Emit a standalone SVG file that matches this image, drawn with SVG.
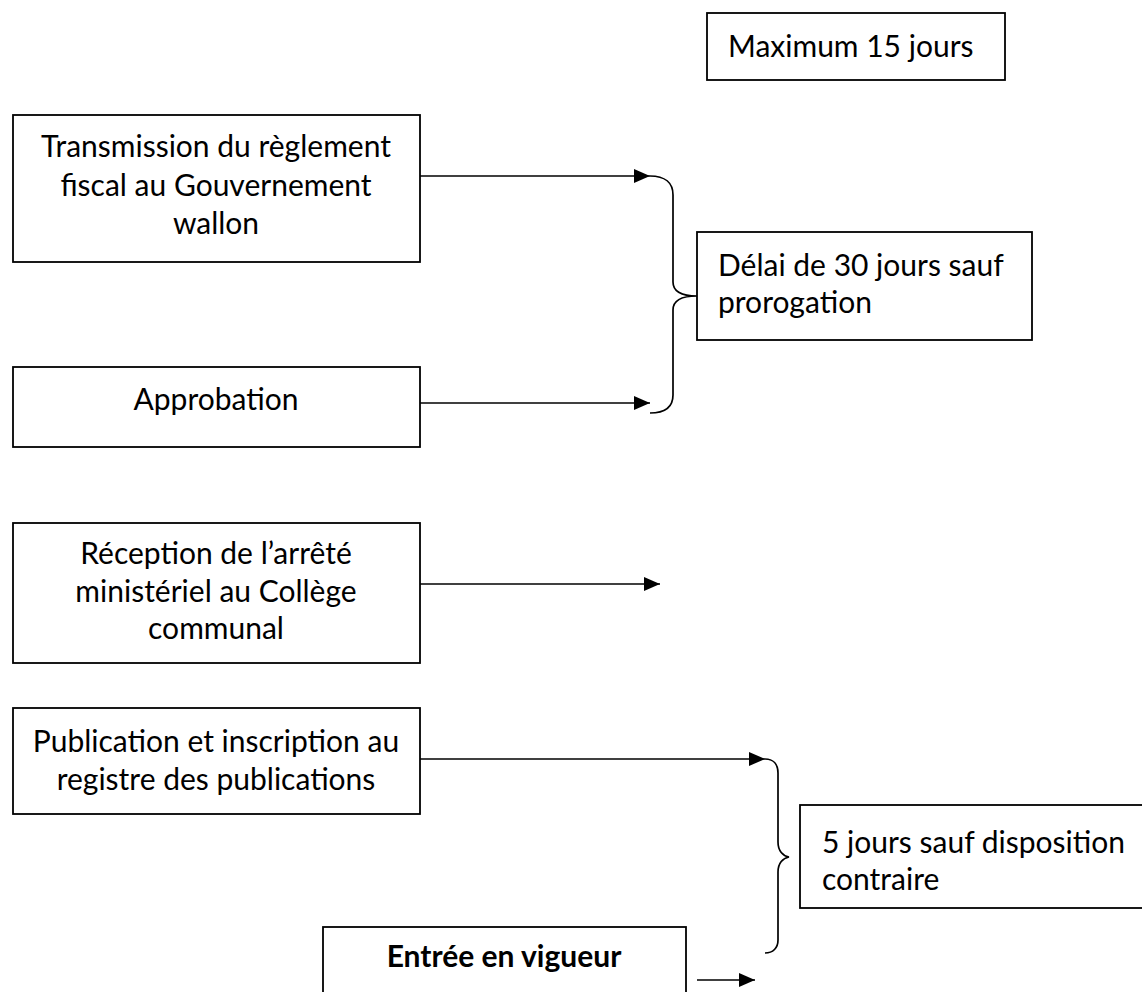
<svg xmlns="http://www.w3.org/2000/svg" width="1142" height="992" viewBox="0 0 1142 992">
<style>
.box{fill:#fff;stroke:#000;stroke-width:1.8}
.t{font-family:Lato,"Open Sans",sans-serif;font-size:30px;fill:#000}
.c{text-anchor:middle}
.b{font-weight:bold}
.ln{fill:none;stroke:#000;stroke-width:1.7}
</style>
<defs>
<marker id="ah" markerUnits="userSpaceOnUse" markerWidth="16" markerHeight="14" refX="16" refY="7" orient="auto">
<path d="M0,0 L16,7 L0,14 z" fill="#000"/>
</marker>
</defs>
<rect width="1142" height="992" fill="#fff"/>
<g id="connectors">
<line class="ln" x1="420" y1="176" x2="650" y2="176" marker-end="url(#ah)"/>
<line class="ln" x1="420" y1="403" x2="650" y2="403" marker-end="url(#ah)"/>
<line class="ln" x1="420" y1="584" x2="660" y2="584" marker-end="url(#ah)"/>
<line class="ln" x1="420" y1="759" x2="765" y2="759" marker-end="url(#ah)"/>
<line class="ln" x1="697" y1="980" x2="755" y2="980" marker-end="url(#ah)"/>
<path class="ln" d="M650,176 C665,176 673,183 673,195 L673,282 C673,292 682,296 697,296 C682,296 673,300 673,310 L673,395 C673,407 665,413 650,413"/>
<path class="ln" d="M765,759 C773,759 778,764 778,773 L778,842 C778,851 783,856 789,857 C783,858 778,863 778,872 L778,940 C778,948 773,953 765,953"/>
</g>
<g id="n-max">
<rect class="box" x="707" y="13" width="298" height="67"/>
<text class="t" x="728" y="57">Maximum 15 jours</text>
</g>
<g id="n-transmission">
<rect class="box" x="13" y="115" width="407" height="147"/>
<text class="t c" x="216" y="157">Transmission du règlement</text>
<text class="t c" x="216" y="196">fiscal au Gouvernement</text>
<text class="t c" x="216" y="234">wallon</text>
</g>
<g id="n-delai">
<rect class="box" x="697" y="232" width="335" height="108"/>
<text class="t" x="718" y="276">Délai de 30 jours sauf</text>
<text class="t" x="718" y="313">prorogation</text>
</g>
<g id="n-approbation">
<rect class="box" x="13" y="367" width="407" height="80"/>
<text class="t c" x="216" y="410">Approbation</text>
</g>
<g id="n-reception">
<rect class="box" x="13" y="523" width="407" height="140"/>
<text class="t c" x="216" y="564">Réception de l’arrêté</text>
<text class="t c" x="216" y="602">ministériel au Collège</text>
<text class="t c" x="216" y="639">communal</text>
</g>
<g id="n-publication">
<rect class="box" x="13" y="708" width="407" height="106"/>
<text class="t c" x="216" y="752">Publication et inscription au</text>
<text class="t c" x="216" y="790">registre des publications</text>
</g>
<g id="n-5jours">
<rect class="box" x="800" y="805" width="360" height="103"/>
<text class="t" x="822" y="853">5 jours sauf disposition</text>
<text class="t" x="822" y="890">contraire</text>
</g>
<g id="n-entree">
<rect class="box" x="323" y="927" width="363" height="80"/>
<text class="t c b" x="504" y="967">Entrée en vigueur</text>
</g>
</svg>
